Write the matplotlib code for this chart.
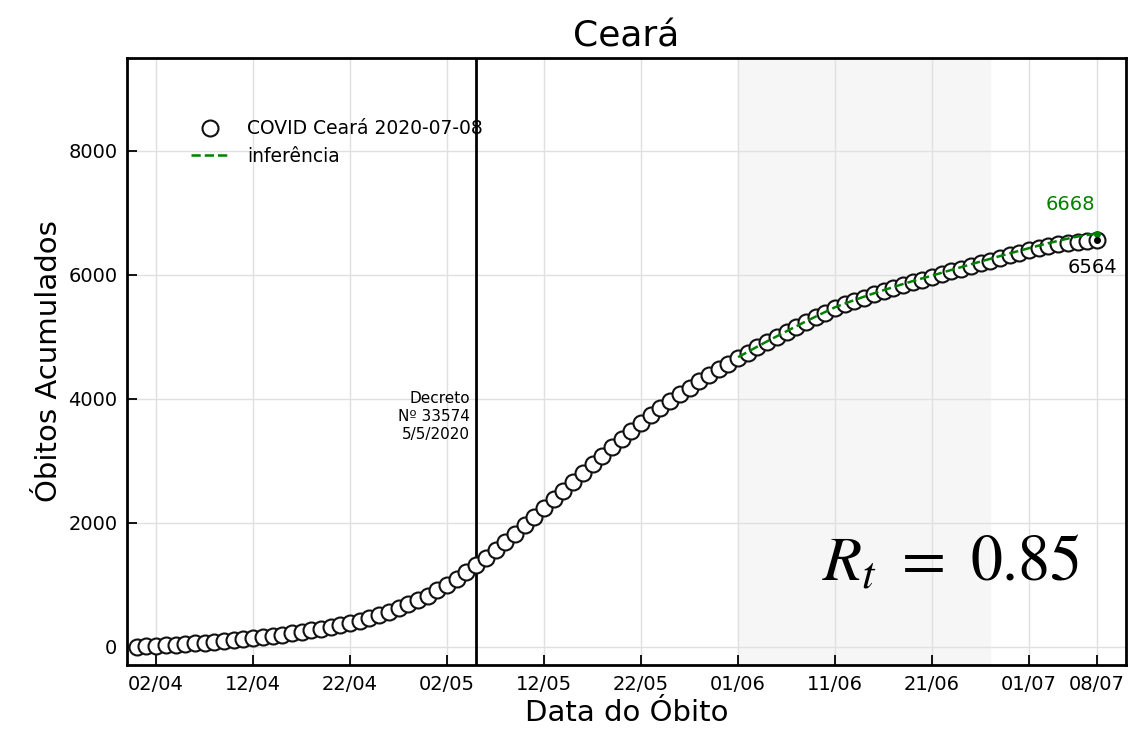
import matplotlib
matplotlib.use("Agg")
import matplotlib.pyplot as plt
import pandas as pd

# ---- data ----
start_date = "2020-03-31"
end_date = "2020-07-08"
deaths = [
    8, 12, 18, 27, 37, 48, 59, 71, 84, 98, 113, 129, 145,            # 31/03 - 12/04
    162, 181, 201, 223, 246, 271, 297, 325, 355, 387,                # 13/04 - 22/04
    425, 469, 517, 569, 625, 687, 755, 830, 912, 1000,               # 23/04 - 02/05
    1100, 1207, 1320, 1440, 1565, 1695, 1830, 1965, 2103, 2242,      # 03/05 - 12/05
    2382, 2524, 2667, 2809, 2949, 3087, 3223, 3356, 3486, 3613,      # 13/05 - 22/05
    3735, 3853, 3967, 4077, 4183, 4285, 4384, 4480, 4572, 4661,      # 23/05 - 01/06
    4749, 4835, 4919, 5001, 5082, 5162, 5241, 5318, 5394, 5468,      # 02/06 - 11/06
    5526, 5582, 5636, 5688, 5738, 5787, 5835, 5881, 5925, 5968,      # 12/06 - 21/06
    6013, 6058, 6102, 6146, 6190, 6233, 6276, 6319, 6362, 6404,      # 22/06 - 01/07
    6439, 6469, 6495, 6518, 6537, 6552, 6564,                        # 02/07 - 08/07
]
inf_start = "2020-06-01"
inference = [
    4675, 4760, 4846, 4930, 5012, 5093, 5173, 5252, 5329, 5405,
    5480, 5539, 5596, 5651, 5704, 5755, 5805, 5854, 5901, 5946,
    5990, 6036, 6082, 6127, 6172, 6217, 6261, 6305, 6348, 6391,
    6433, 6474, 6513, 6551, 6587, 6620, 6646, 6668,
]
tick_labels = ["02/04", "12/04", "22/04", "02/05", "12/05", "22/05",
               "01/06", "11/06", "21/06", "01/07", "08/07"]
tick_dates = ["2020-04-02", "2020-04-12", "2020-04-22", "2020-05-02", "2020-05-12",
              "2020-05-22", "2020-06-01", "2020-06-11", "2020-06-21", "2020-07-01",
              "2020-07-08"]
decree_date = "2020-05-05"
decree_text = "Decreto\nNº 33574\n5/5/2020"
shade_start, shade_end = "2020-06-01", "2020-06-27"
rt_value = 0.85
legend_data = "COVID Ceará 2020-07-08"
legend_inf = "inferência"

dates = pd.date_range(start_date, end_date, freq="D")
inf_dates = pd.date_range(inf_start, periods=len(inference), freq="D")

fig = plt.figure(figsize=(11.3, 7.33), dpi=100)
ax = fig.add_axes([0.1124, 0.0928, 0.8841, 0.8281])

ax.axvspan(pd.Timestamp(shade_start), pd.Timestamp(shade_end), color="#f6f6f6", zorder=0)
ax.grid(True, color="#e0e0e0", linewidth=1.0, zorder=0.5)
ax.set_axisbelow(True)

ax.axvline(pd.Timestamp(decree_date), color="black", linewidth=2, zorder=1)

ax.plot(dates, deaths, linestyle="none", marker="o", markersize=11.5,
        markerfacecolor="white", markeredgecolor="#111111", markeredgewidth=1.5,
        zorder=2, label=legend_data)
ax.plot(inf_dates, inference, linestyle="--", color="green", linewidth=1.8,
        zorder=3, label=legend_inf)
ax.plot(inf_dates[-1], inference[-1], marker="o", markersize=4, color="green", zorder=4)
ax.plot(dates[-1], deaths[-1], marker="o", markersize=4, color="black", zorder=4)

ax.annotate(str(inference[-1]), (inf_dates[-1], inference[-1]), xytext=(-27, 29),
            textcoords="offset pixels", ha="center", va="center", color="green", fontsize=14)
ax.annotate(str(deaths[-1]), (dates[-1], deaths[-1]), xytext=(-5, -27),
            textcoords="offset pixels", ha="center", va="center", color="black", fontsize=14)
ax.annotate(decree_text, (pd.Timestamp(decree_date), 4130), xytext=(-6, 0),
            textcoords="offset pixels", ha="right", va="top", fontsize=11, linespacing=1.25)

ax.text(0.954, 0.14, r"$R_t\ =\ %.2f$" % rt_value, transform=ax.transAxes,
        ha="right", va="baseline", fontsize=46, math_fontfamily="stix")

ax.set_xlim(pd.Timestamp("2020-03-30"), pd.Timestamp("2020-07-11"))
ax.set_ylim(-290, 9500)
ax.set_xticks([pd.Timestamp(d) for d in tick_dates])
ax.set_xticklabels(tick_labels)
ax.set_yticks([0, 2000, 4000, 6000, 8000])

ax.tick_params(direction="in", length=7, width=1.3, labelsize=14, pad=7)
for s in ax.spines.values():
    s.set_linewidth(2)
    s.set_color("black")

ax.set_xlabel("Data do Óbito", fontsize=21)
ax.set_ylabel("Óbitos Acumulados", fontsize=21)
ax.set_title("Ceará", fontsize=26, pad=8)

ax.legend(loc="upper left", bbox_to_anchor=(0.047, 0.927), frameon=False,
          fontsize=13.5, handletextpad=1.0, handlelength=2.0, labelspacing=0.45)

fig.savefig("out.png", dpi=100)
